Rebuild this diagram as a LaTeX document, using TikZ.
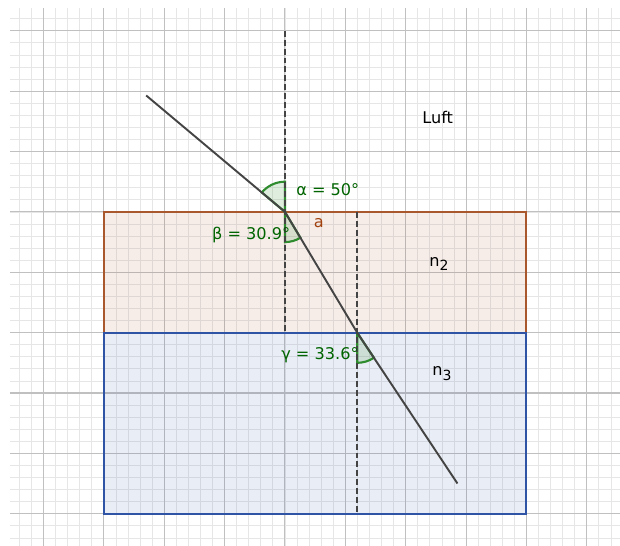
\documentclass[tikz,border=0pt]{standalone}
\usepackage{fontspec}
\setmainfont{DejaVu Sans}
\usetikzlibrary{calc}
\definecolor{gridmaj}{HTML}{C0C0C0}
\definecolor{gridmin}{HTML}{E6E6E6}
\definecolor{rayink}{HTML}{444444}
\definecolor{rust}{HTML}{A9582E}
\definecolor{glass}{HTML}{2F54A6}
\definecolor{leaf}{HTML}{2E8B2E}
\definecolor{leafdark}{HTML}{006400}
\definecolor{rustdark}{HTML}{A0410E}

\tikzset{
  gridminor/.style={draw=gridmin,line width=0.35pt},
  gridmajor/.style={draw=gridmaj,line width=0.5pt},
  layer2/.style={draw=rust,fill=rust,fill opacity=0.1,line width=1pt},
  layer3/.style={draw=glass,fill=glass,fill opacity=0.1,line width=1pt},
  normalline/.style={draw=rayink,dash pattern=on 2.8pt off 1.4pt,line width=0.9pt},
  rayline/.style={draw=rayink,line width=0.9pt},
  anglesector/.style={draw=leaf,fill=leaf,fill opacity=0.15,line width=1pt},
  txt/.style={font=\fontsize{7.6}{9}\selectfont,inner sep=1pt},
  anglabel/.style={txt,text=leafdark},
}

\begin{document}
\begin{tikzpicture}
  % background and grid
  \fill[white] (-4.72,-5.53) rectangle (5.55,3.51);
  \useasboundingbox (-4.72,-5.53) rectangle (5.55,3.51);
  \foreach \i in {-22,...,27}
    \draw[gridminor] (\i/5,-5.53) -- (\i/5,3.38);
  \foreach \j in {-27,...,16}
    \draw[gridminor] (-4.55,\j/5) -- (5.55,\j/5);
  \foreach \i in {-4,...,5}
    \draw[gridmajor] (\i,-5.53) -- (\i,3.38);
  \foreach \j in {-5,...,3}
    \draw[gridmajor] (-4.55,\j) -- (5.55,\j);

  % media
  \draw[layer2] (-3,0) rectangle (4,-2);
  \draw[layer3] (-3,-2) rectangle (4,-5);

  % points of the ray
  \coordinate (A) at (0,0);
  \coordinate (S) at (140:3);
  \coordinate (B) at ({2*tan(30.9)},-2);
  \coordinate (E) at ($(B)+(-56.4:3)$);
  \coordinate (N1top) at (0,3);
  \coordinate (N1bot) at (0,-2);
  \coordinate (N2top) at ($(B)+(0,2)$);
  \coordinate (N2bot) at ($(B)+(0,-3)$);

  % angles
  \draw[anglesector] (A) -- ++(90:0.5) arc[start angle=90,end angle=140,radius=0.5] -- cycle;
  \draw[anglesector] (A) -- ++(270:0.5) arc[start angle=270,end angle=300.9,radius=0.5] -- cycle;
  \draw[anglesector] (B) -- ++(270:0.5) arc[start angle=270,end angle=303.6,radius=0.5] -- cycle;

  % normals
  \draw[normalline] (N1top) -- (N1bot);
  \draw[normalline] (N2top) -- (N2bot);

  % ray
  \draw[rayline] (S) -- (A) -- (B) -- (E);

  % labels
  \node[anglabel] (alpha) at (0.71,0.37) {α = 50°};
  \node[anglabel] (beta) at (-0.56,-0.39) {β = 30.9°};
  \node[anglabel] (gamma) at (0.58,-2.37) {γ = 33.6°};
  \node[txt,text=rustdark] (seg) at (0.56,-0.19) {a};
  \node[txt] (air) at (2.53,1.57) {Luft};
  \node[txt] (n2) at (2.55,-0.86) {n\raisebox{-0.5ex}{\fontsize{6.6}{7}\selectfont 2}};
  \node[txt] (n3) at (2.6,-2.68) {n\raisebox{-0.5ex}{\fontsize{6.6}{7}\selectfont 3}};
\end{tikzpicture}
\end{document}
